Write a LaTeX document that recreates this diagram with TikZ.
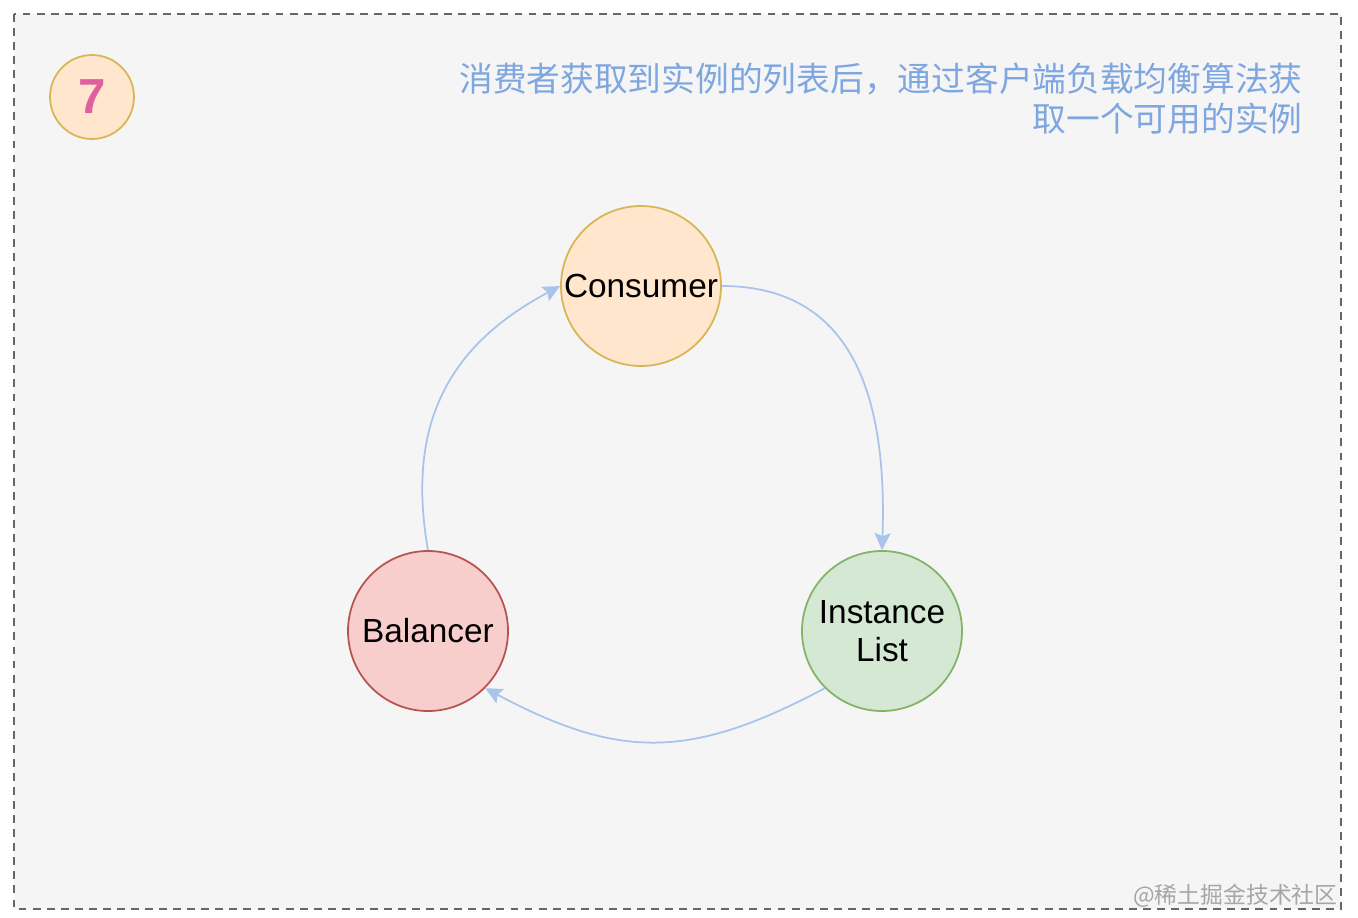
\documentclass[tikz,border=0pt]{standalone}
\usepackage{fontspec}
\setmainfont{Liberation Sans}
\newfontfamily\cjk{Noto Sans CJK SC}
\usetikzlibrary{arrows.meta}

\definecolor{panelgray}{HTML}{F5F5F5}
\definecolor{framegray}{HTML}{666666}
\definecolor{orangefill}{HTML}{FFE6CC}
\definecolor{orangeline}{HTML}{D6B656}
\definecolor{greenfill}{HTML}{D5E8D4}
\definecolor{greenline}{HTML}{82B366}
\definecolor{redfill}{HTML}{F8CECC}
\definecolor{redline}{HTML}{B85450}
\definecolor{linkblue}{HTML}{A9C4EB}
\definecolor{notetext}{HTML}{7EA6E0}
\definecolor{badgepink}{HTML}{E0609F}

\begin{document}
\begin{tikzpicture}[x=0.02cm, y=-0.02cm]
\tikzset{
  roundnode/.style={circle, line width=1pt, minimum size=160*0.02cm, inner sep=0pt,
    align=center, font=\fontsize{19}{22}\selectfont},
  consumer/.style={roundnode, fill=orangefill, draw=orangeline},
  instances/.style={roundnode, fill=greenfill, draw=greenline},
  balancer/.style={roundnode, fill=redfill, draw=redline},
  badge/.style={circle, fill=orangefill, draw=orangeline, line width=1pt,
    minimum size=84*0.02cm, inner sep=0pt, text=badgepink,
    font=\fontsize{28}{28}\selectfont\bfseries},
  link/.style={-{Stealth[length=3.4mm,width=3.2mm,inset=0.6mm]}, line width=1pt, draw=linkblue},
  note/.style={text=notetext, align=right, inner sep=0pt,
    font=\cjk\fontsize{19.2}{22.5}\selectfont},
  frame/.style={draw=framegray, line width=1.1pt, dash pattern=on 4.5pt off 3.5pt}
}

% page and panel
\useasboundingbox (0,0) rectangle (1358,917);
\fill[white] (0,0) rectangle (1358,917);
\filldraw[fill=panelgray, frame] (14,14) rectangle (1341,909);

% heading
\node[badge] (step7) at (92,97) {7};
\node[note, anchor=north east] (caption) at (1303,63)
  {消费者获取到实例的列表后，通过客户端负载均衡算法获\\取一个可用的实例};

% nodes
\node[consumer] (consumer) at (641,286) {Consumer};
\node[instances] (instlist) at (882,631) {Instance\\List};
\node[balancer] (balancer) at (428,631) {Balancer};

% cycle
\draw[link] (consumer.east) to[out=0, in=88, looseness=1.15] (instlist.north);
\draw[link] (instlist.225) to[out=208, in=-28, looseness=1.15] (balancer.315);
\draw[link] (balancer.north) to[out=100, in=208, looseness=1.1] (consumer.west);

% watermark
\node[text=gray!70, anchor=south east, inner sep=0pt, font=\cjk\fontsize{13}{13}\selectfont]
  (mark) at (1338,908) {@稀土掘金技术社区};
\end{tikzpicture}
\end{document}
